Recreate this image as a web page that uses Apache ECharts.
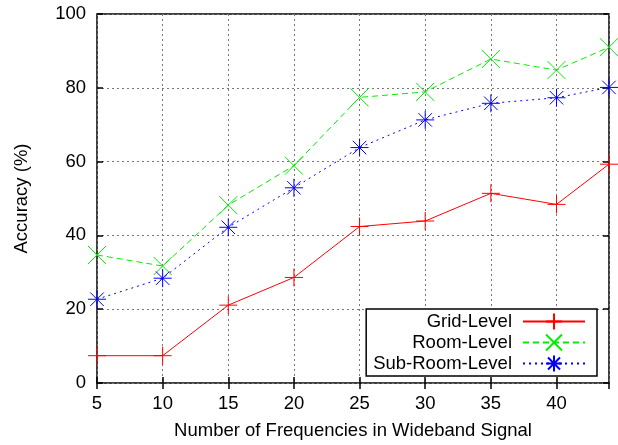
<!DOCTYPE html>
<html><head><meta charset="utf-8">
<script src="https://cdn.jsdelivr.net/npm/echarts@6/dist/echarts.min.js"></script>
<style>html,body{margin:0;padding:0;background:#fff}#c{width:618px;height:445px}</style>
</head><body><div id="c"></div>
<script>
const xValues = [5, 10, 15, 20, 25, 30, 35, 40, 44];
const gridLevel = [7.4, 7.4, 21.1, 28.6, 42.4, 43.9, 51.4, 48.4, 59.3];
const roomLevel = [34.7, 31.7, 48.2, 58.9, 77.4, 78.9, 87.8, 84.8, 91.0];
const subRoomLevel = [22.7, 28.4, 42.2, 52.9, 63.8, 71.3, 75.8, 77.3, 80.1];
const seriesNames = ['Grid-Level', 'Room-Level', 'Sub-Room-Level'];
const xTitle = 'Number of Frequencies in Wideband Signal';
const yTitle = 'Accuracy (%)';

const FONT = '"Liberation Sans", Arial, sans-serif';
const FS = 18.5;
const plusPath = 'path://M0,-1L0,1M-1,0L1,0';
const crossPath = 'path://M-1,-1L1,1M-1,1L1,-1';
const starPath = 'path://M0,-1L0,1M-1,0L1,0M-0.75,-0.75L0.75,0.75M-0.75,0.75L0.75,-0.75';

function pairs(vals){ return xValues.map((x,i)=>[x, vals[i]]); }
function mk(name, vals, color, sym, dash){
  return {
    name, type:'line', data: pairs(vals), symbol: sym, symbolSize: 18,
    showAllSymbol: true, clip: false,
    lineStyle:{color, width:1, type: dash},
    itemStyle:{color:'none', borderColor: color, borderWidth:1},
    emphasis:{disabled:true}, animation:false, z: 5
  };
}
const chart = echarts.init(document.getElementById('c'), null, {renderer:'canvas'});
const tick = {show:true, inside:true, length:6, lineStyle:{color:'#000', width:1.5}};
chart.setOption({
  animation:false,
  grid:{left:97, right:9, top:14, bottom:62, show:true, borderColor:'#000', borderWidth:1.5, backgroundColor:'transparent'},
  xAxis:[{
    type:'value', min:5, max:44, interval:5,
    name: xTitle, nameLocation:'middle', nameGap:38,
    nameTextStyle:{fontFamily:FONT, fontSize:FS, color:'#000'},
    axisLine:{show:false}, axisTick:tick,
    axisLabel:{fontFamily:FONT, fontSize:FS, color:'#000', margin:11, showMaxLabel:false},
    splitLine:{show:true, lineStyle:{color:'#777', width:1, type:[2,3]}}
  },{
    type:'value', min:5, max:44, interval:5, position:'top',
    axisLine:{show:false}, axisTick:tick,
    axisLabel:{show:false}, splitLine:{show:false}
  }],
  yAxis:[{
    type:'value', min:0, max:100, interval:20,
    name: yTitle, nameLocation:'middle', nameGap:66, nameRotate:90,
    nameTextStyle:{fontFamily:FONT, fontSize:FS, color:'#000'},
    axisLine:{show:false}, axisTick:tick,
    axisLabel:{fontFamily:FONT, fontSize:FS, color:'#000', margin:11},
    splitLine:{show:true, lineStyle:{color:'#777', width:1, type:[2,3]}}
  },{
    type:'value', min:0, max:100, interval:20, position:'right',
    axisLine:{show:false}, axisTick:tick,
    axisLabel:{show:false}, splitLine:{show:false}
  }],
  legend:{
    data: seriesNames, orient:'vertical', right:21, top:309, align:'right',
    itemWidth:62, itemHeight:20, itemGap:0, padding:[2,11,2,7],
    backgroundColor:'#fff', borderColor:'#000', borderWidth:1.5, borderRadius:0,
    textStyle:{fontFamily:FONT, fontSize:FS, color:'#000', width:157, align:'right', padding:[0,6,0,0]},
    selectedMode:false, z: 10
  },
  series:[
    mk(seriesNames[0], gridLevel, '#ff0000', plusPath, 'solid'),
    mk(seriesNames[1], roomLevel, '#00ee00', crossPath, [6,4]),
    mk(seriesNames[2], subRoomLevel, '#0000ff', starPath, [2,4])
  ]
});
</script></body></html>
